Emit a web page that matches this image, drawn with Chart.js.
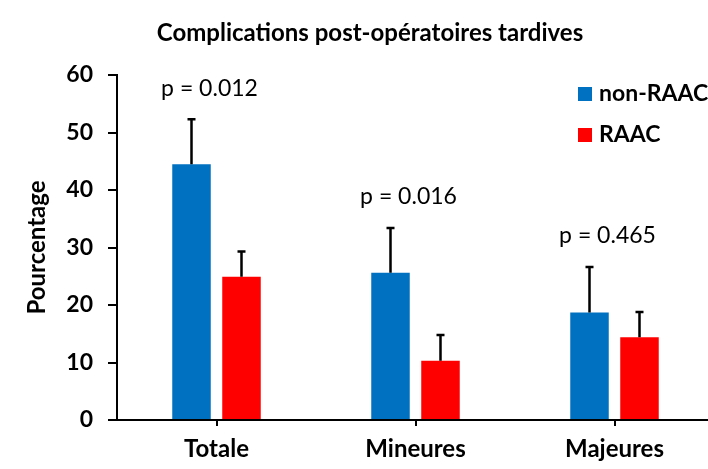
<!DOCTYPE html>
<html>
<head>
<meta charset="utf-8">
<script src="https://cdn.jsdelivr.net/npm/chart.js@4/dist/chart.umd.min.js"></script>
<style>
  html, body { margin: 0; padding: 0; background: #fff; overflow: hidden; }
  #wrap { position: relative; width: 716px; height: 469px; }
</style>
</head>
<body>
<div id="wrap"><canvas id="c"></canvas></div>
<script>
const categories = ['Totale', 'Mineures', 'Majeures'];
const seriesNames = ['non-RAAC', 'RAAC'];
const nonRaac = [44.5, 25.6, 18.7];
const raac = [24.9, 10.3, 14.4];
const errNonRaac = [7.8, 7.8, 7.9];
const errRaac = [4.4, 4.5, 4.4];
const pLabels = ['p = 0.012', 'p = 0.016', 'p = 0.465'];
const yTicks = [0, 10, 20, 30, 40, 50, 60];
const chartTitle = 'Complications post-opératoires tardives';
const yTitle = 'Pourcentage';

const BLUE = '#0070C0';
const RED = '#FF0000';
const FONT = 'Lato';

const errors = [errNonRaac, errRaac];

const errorBarPlugin = {
  id: 'errorBars',
  afterDatasetsDraw(chart) {
    const ctx = chart.ctx;
    const y = chart.scales.y;
    ctx.save();
    ctx.strokeStyle = '#000';
    ctx.lineWidth = 2.5;
    chart.data.datasets.forEach((ds, i) => {
      const meta = chart.getDatasetMeta(i);
      meta.data.forEach((bar, j) => {
        const top = y.getPixelForValue(ds.data[j] + errors[i][j]);
        ctx.beginPath();
        ctx.moveTo(bar.x, bar.y);
        ctx.lineTo(bar.x, top);
        ctx.moveTo(bar.x - 4, top);
        ctx.lineTo(bar.x + 4, top);
        ctx.stroke();
      });
    });
    ctx.restore();
  }
};

const pValuePlugin = {
  id: 'pValues',
  afterDatasetsDraw(chart) {
    const ctx = chart.ctx;
    const x = chart.scales.x;
    const y = chart.scales.y;
    ctx.save();
    ctx.fillStyle = '#000';
    ctx.font = '23px ' + FONT;
    ctx.textAlign = 'center';
    ctx.textBaseline = 'middle';
    pLabels.forEach((lab, j) => {
      const top = Math.max(nonRaac[j] + errNonRaac[j], raac[j] + errRaac[j]);
      ctx.fillText(lab, x.getPixelForValue(j) - 7, y.getPixelForValue(top) - 31);
    });
    ctx.restore();
  }
};

const titleLegendPlugin = {
  id: 'titleLegend',
  afterDraw(chart) {
    const ctx = chart.ctx;
    ctx.save();
    ctx.fillStyle = '#000';
    ctx.font = 'bold 24px ' + FONT;
    ctx.textAlign = 'center';
    ctx.textBaseline = 'middle';
    ctx.fillText(chartTitle, 370, 33);
    ctx.font = 'bold 23px ' + FONT;
    ctx.textAlign = 'left';
    chart.data.datasets.forEach((ds, i) => {
      const cy = 94 + i * 41;
      ctx.fillStyle = ds.backgroundColor;
      ctx.fillRect(578, cy - 7, 14, 14);
      ctx.fillStyle = '#000';
      ctx.fillText(ds.label, 599, cy);
    });
    ctx.restore();
  }
};

const whiteBg = {
  id: 'whiteBg',
  beforeDraw(chart) {
    const ctx = chart.ctx;
    ctx.save();
    ctx.fillStyle = '#fff';
    ctx.fillRect(0, 0, chart.width, chart.height);
    ctx.restore();
  }
};

new Chart(document.getElementById('c'), {
  type: 'bar',
  data: {
    labels: categories,
    datasets: [
      { label: seriesNames[0], data: nonRaac, backgroundColor: BLUE },
      { label: seriesNames[1], data: raac, backgroundColor: RED }
    ]
  },
  options: {
    responsive: true,
    maintainAspectRatio: false,
    animation: false,
    devicePixelRatio: 1,
    layout: { padding: { top: 75, right: 2, bottom: 0, left: 0 } },
    datasets: { bar: { categoryPercentage: 0.5025, barPercentage: 0.77 } },
    plugins: {
      legend: { display: false },
      title: { display: false },
      tooltip: { enabled: false }
    },
    scales: {
      x: {
        grid: { display: true, offset: false, drawOnChartArea: false, drawTicks: true, tickLength: 6, color: '#000', lineWidth: 2 },
        border: { display: true, color: '#000', width: 2 },
        ticks: { color: '#000', font: { family: FONT, size: 24, weight: 'bold' }, padding: 9 },
        afterFit(s) { s.height = 49; }
      },
      y: {
        min: 0,
        max: 60,
        afterBuildTicks(s) { s.ticks = yTicks.map(v => ({ value: v })); },
        grid: { display: true, drawOnChartArea: false, drawTicks: true, tickLength: 9, color: '#000', lineWidth: 2 },
        border: { display: true, color: '#000', width: 2 },
        ticks: { color: '#000', font: { family: FONT, size: 23, weight: 'bold' }, padding: 15 },
        title: { display: true, text: yTitle, color: '#000', font: { family: FONT, size: 24, weight: 'bold' }, padding: { top: 23, bottom: 0 } },
        afterFit(s) { s.width = 117; }
      }
    }
  },
  plugins: [whiteBg, errorBarPlugin, pValuePlugin, titleLegendPlugin]
});
</script>
</body>
</html>
